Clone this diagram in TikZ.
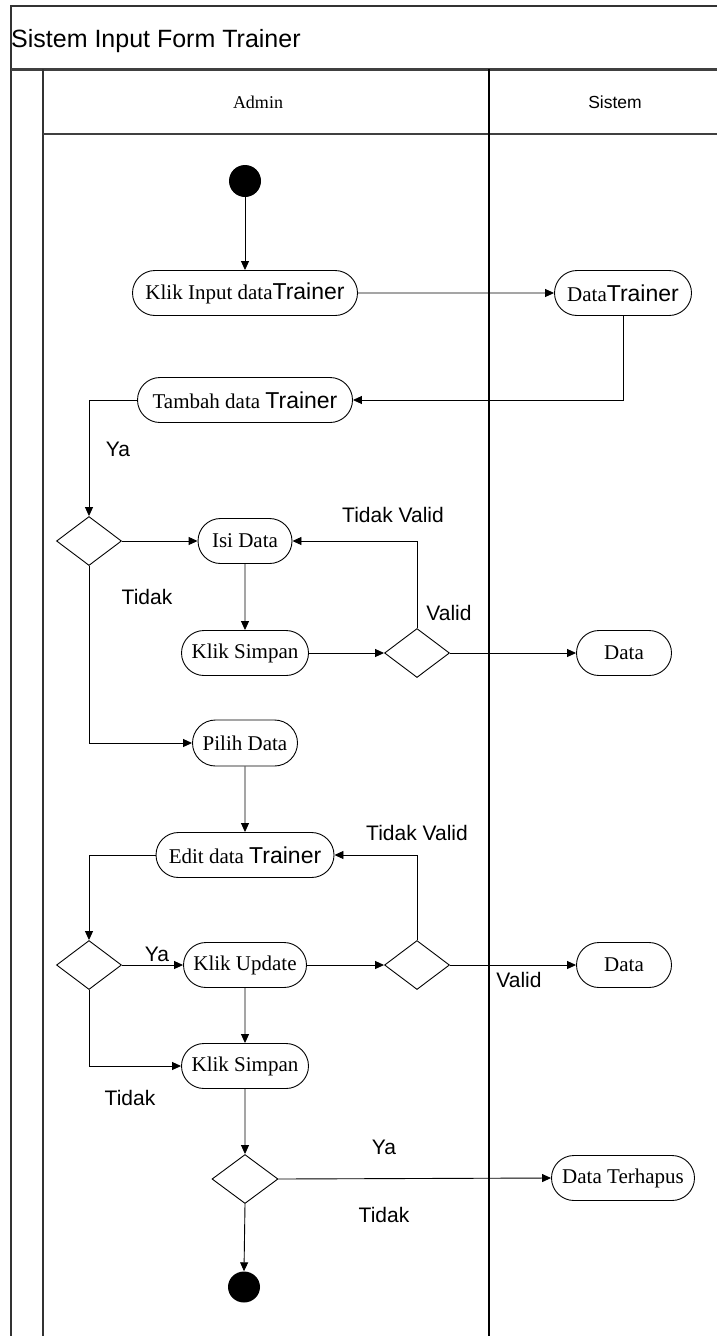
\documentclass[tikz,border=0pt]{standalone}
\usepackage{fontspec}
\setmainfont{Liberation Serif}
\newfontfamily\ar{Liberation Sans}
\usetikzlibrary{shapes.geometric,shapes.misc,arrows.meta}
\tikzset{
  act/.style={draw, rounded rectangle, inner sep=0pt, minimum height=45pt, line width=0.9pt, font=\fontsize{21}{23}\selectfont},
  dec/.style={draw, diamond, inner sep=0pt, minimum width=65pt, minimum height=49pt, line width=0.9pt},
  dot/.style={circle, fill=black, inner sep=0pt, minimum size=32pt},
  flow/.style={line width=0.9pt, -{Triangle[length=9pt,width=8pt]}},
  lbl/.style={font=\ar\fontsize{21}{23}\selectfont, inner sep=0pt},
  frame/.style={line width=2pt, draw=black!80},
}
\newcommand{\tr}{{\ar\fontsize{23}{25}\selectfont Trainer}}
\begin{document}
\begin{tikzpicture}[x=1pt,y=-1pt]
\useasboundingbox (0,0) rectangle (716,1336);
% frame
\draw[frame] (11,1340) -- (11,6) -- (720,6);
\draw[line width=3pt, draw=black!75] (11,69) -- (720,69);
\draw[frame] (43,69) -- (43,1340);
\draw[line width=1.5pt, draw=black!75] (43,134) -- (720,134);
\draw[line width=1.3pt] (489,69) -- (489,1340);
\node[anchor=west, font=\ar\fontsize{25}{27}\selectfont, inner sep=0pt] (title) at (11,41) {Sistem Input Form Trainer};
\node[font=\fontsize{18}{20}\selectfont] (admin) at (258,102) {Admin};
\node[font=\ar\fontsize{17.5}{19}\selectfont] (sistem) at (615,102) {Sistem};
% nodes
\node[dot] (start) at (245,181) {};
\node[act, minimum width=225pt] (klik) at (245,293) {Klik Input data\tr};
\node[act, minimum width=137pt] (dt) at (623,293) {Data\tr};
\node[act, minimum width=215pt] (tambah) at (245,400) {Tambah data \tr};
\node[dec] (d1) at (89,541) {};
\node[act, minimum width=94pt] (isi) at (245,541) {Isi Data};
\node[act, minimum width=127pt] (simpan1) at (245,653) {Klik Simpan};
\node[dec] (d2) at (417,653) {};
\node[act, minimum width=95pt] (data1) at (624,653) {Data};
\node[act, minimum width=105pt, minimum height=46pt] (pilih) at (245,743) {Pilih Data};
\node[act, minimum width=178pt] (edit) at (245,855) {Edit data \tr};
\node[dec] (d3) at (89,965) {};
\node[act, minimum width=123pt] (update) at (245,965) {Klik Update};
\node[dec] (d4) at (417,965) {};
\node[act, minimum width=95pt] (data2) at (624,965) {Data};
\node[act, minimum width=127pt] (simpan2) at (245,1066) {Klik Simpan};
\node[dec, minimum width=66pt] (d5) at (245,1179) {};
\node[act, minimum width=143pt] (hapus) at (623,1178) {Data Terhapus};
\node[dot, minimum width=32pt, minimum height=31pt, ellipse] (end) at (244,1287) {};
% connectors
\draw[flow] (start) -- (klik);
\draw[flow] (klik) -- (dt);
\draw[flow] (dt.south) |- (tambah.east);
\draw[flow] (tambah.west) -| (d1.north);
\draw[flow] (d1.east) -- (isi.west);
\draw[flow] (isi) -- (simpan1);
\draw[flow] (simpan1.east) -- (d2.west);
\draw[flow] (d2.north) |- (isi.east);
\draw[flow] (d2.east) -- (data1.west);
\draw[flow] (d1.south) |- (pilih.west);
\draw[flow] (pilih) -- (edit);
\draw[flow] (edit.west) -| (d3.north);
\draw[flow] (d3.east) -- (update.west);
\draw[flow] (update) -- (simpan2);
\draw[flow] (update.east) -- (d4.west);
\draw[flow] (d4.north) |- (edit.east);
\draw[flow] (d4.east) -- (data2.west);
\draw[flow] (d3.south) |- (simpan2.west);
\draw[flow] (simpan2) -- (d5);
\draw[flow] (d5.east) -- (hapus.west);
\draw[flow] (d5.south) -- (end.north);
% labels
\node[lbl] (l1) at (118,449) {Ya};
\node[lbl] (l2) at (393,515) {Tidak Valid};
\node[lbl] (l3) at (147,597) {Tidak};
\node[lbl] (l4) at (449,613) {Valid};
\node[lbl] (l5) at (417,833) {Tidak Valid};
\node[lbl] (l6) at (157,954) {Ya};
\node[lbl] (l7) at (519,980) {Valid};
\node[lbl] (l8) at (130,1098) {Tidak};
\node[lbl] (l9) at (384,1147) {Ya};
\node[lbl] (l10) at (384,1215) {Tidak};
\end{tikzpicture}
\end{document}
